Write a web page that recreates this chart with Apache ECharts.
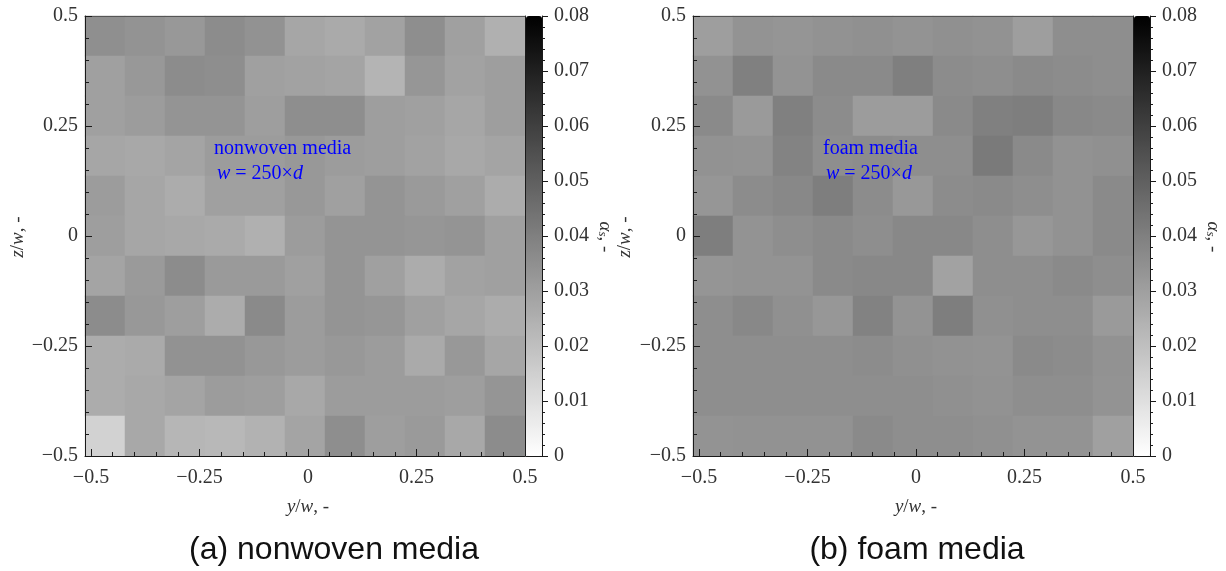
<!DOCTYPE html>
<html>
<head>
<meta charset="utf-8">
<script src="https://cdn.jsdelivr.net/npm/echarts@6/dist/echarts.min.js"></script>
<style>
html,body{margin:0;padding:0;background:#fff;}
#chart{width:1226px;height:571px;}
</style>
</head>
<body>
<div id="chart"></div>
<script>
// ---------- DATA ----------
// cell index along y/w (columns, left -> right) and z/w (rows, bottom -> top)
const cellIndex = ['1','2','3','4','5','6','7','8','9','10','11'];
// tick values of the physical axes
const posTicks = [-0.5, -0.25, 0, 0.25, 0.5];
const colorTicks = [0, 0.01, 0.02, 0.03, 0.04, 0.05, 0.06, 0.07, 0.08];

// alpha_s values, rows listed from top (z/w = +0.5) to bottom (z/w = -0.5)
const nonwovenRows = [
  [0.0351,0.0339,0.0323,0.0361,0.0342,0.0279,0.0267,0.0292,0.0355,0.0298,0.0248],
  [0.0298,0.0323,0.0361,0.0355,0.0298,0.0292,0.0286,0.0235,0.0329,0.0292,0.0304],
  [0.0298,0.0311,0.0336,0.0336,0.0304,0.0355,0.0355,0.0304,0.0298,0.0279,0.0304],
  [0.0279,0.0273,0.0286,0.0311,0.0311,0.0323,0.0311,0.0304,0.0292,0.0273,0.0286],
  [0.0311,0.0279,0.0260,0.0298,0.0298,0.0323,0.0298,0.0336,0.0317,0.0298,0.0260],
  [0.0304,0.0279,0.0273,0.0267,0.0248,0.0311,0.0336,0.0336,0.0329,0.0336,0.0298],
  [0.0286,0.0317,0.0361,0.0317,0.0317,0.0298,0.0336,0.0298,0.0260,0.0292,0.0298],
  [0.0361,0.0323,0.0304,0.0260,0.0367,0.0311,0.0336,0.0329,0.0298,0.0279,0.0260],
  [0.0260,0.0267,0.0342,0.0342,0.0323,0.0311,0.0323,0.0311,0.0267,0.0323,0.0279],
  [0.0260,0.0273,0.0286,0.0311,0.0304,0.0273,0.0311,0.0311,0.0311,0.0304,0.0333],
  [0.0141,0.0273,0.0229,0.0223,0.0242,0.0286,0.0355,0.0304,0.0317,0.0273,0.0361]
];
const foamRows = [
  [0.0304,0.0339,0.0333,0.0342,0.0348,0.0339,0.0348,0.0342,0.0304,0.0355,0.0355],
  [0.0342,0.0398,0.0339,0.0367,0.0367,0.0402,0.0361,0.0355,0.0367,0.0361,0.0355],
  [0.0367,0.0317,0.0398,0.0361,0.0311,0.0311,0.0367,0.0398,0.0405,0.0373,0.0367],
  [0.0342,0.0339,0.0389,0.0355,0.0361,0.0355,0.0355,0.0417,0.0367,0.0342,0.0348],
  [0.0329,0.0361,0.0373,0.0405,0.0361,0.0323,0.0361,0.0367,0.0355,0.0342,0.0367],
  [0.0405,0.0339,0.0355,0.0367,0.0355,0.0373,0.0373,0.0355,0.0326,0.0342,0.0367],
  [0.0333,0.0339,0.0339,0.0367,0.0373,0.0373,0.0292,0.0355,0.0355,0.0367,0.0355],
  [0.0355,0.0373,0.0348,0.0326,0.0392,0.0339,0.0405,0.0348,0.0355,0.0355,0.0317],
  [0.0355,0.0355,0.0355,0.0355,0.0361,0.0348,0.0342,0.0339,0.0367,0.0361,0.0342],
  [0.0355,0.0355,0.0355,0.0355,0.0355,0.0355,0.0348,0.0342,0.0355,0.0355,0.0339],
  [0.0339,0.0342,0.0342,0.0342,0.0367,0.0355,0.0355,0.0348,0.0339,0.0339,0.0298]
];
const panelNames = ['nonwoven media', 'foam media'];
const captions = ['(a) nonwoven media', '(b) foam media'];
const widthNote = '{i|w} = 250×{i|d}';

// ---------- CHART ----------
const SERIF = '"Liberation Serif", "Times New Roman", serif';
const LINE = '#1a1a1a';
const TXT = '#333';

function toCells(rows) {
  const out = [];
  const n = rows.length;
  rows.forEach((row, r) => row.forEach((v, c) => out.push([c, n - 1 - r, v])));
  return out;
}
function posFmt(v) {
  if (Math.abs(v) < 1e-9) return '0';
  return (v < 0 ? '\u2212' : '') + String(Math.abs(v));
}
function cbFmt(v) {
  if (Math.abs(v) < 1e-9) return '0';
  return v.toFixed(2);
}

const panels = [
  { left: 85, rows: nonwovenRows, note: panelNames[0], noteX: 214, cbTitleX: 605, zX: 18, capX: 334 },
  { left: 693, rows: foamRows, note: panelNames[1], noteX: 823, cbTitleX: 1213, zX: 625, capX: 917 }
];
const TOP = 16, SIZE = 440, TICKOFF = 6, CBW = 16;

const option = {
  animation: false,
  backgroundColor: '#fff',
  grid: [], xAxis: [], yAxis: [], series: [], visualMap: [], graphic: []
};

panels.forEach((p, k) => {
  const g0 = option.grid.length;
  option.grid.push({ left: p.left, top: TOP, width: SIZE, height: SIZE, containLabel: false });
  option.grid.push({ left: p.left + TICKOFF, top: TOP, width: SIZE - TICKOFF, height: SIZE, containLabel: false });
  option.grid.push({ left: p.left + SIZE + 1, top: TOP, width: CBW, height: SIZE, containLabel: false });

  const x0 = option.xAxis.length;
  const y0 = option.yAxis.length;
  // heatmap category axes (bottom border)
  option.xAxis.push({ type: 'category', gridIndex: g0, data: cellIndex, position: 'bottom', z: 10,
    axisLine: { show: true, onZero: false, lineStyle: { color: LINE, width: 1 } }, axisTick: { show: false }, axisLabel: { show: false }, splitLine: { show: false } });
  option.yAxis.push({ type: 'category', gridIndex: g0, data: cellIndex, z: 10,
    axisLine: { show: false, onZero: false }, axisTick: { show: false }, axisLabel: { show: false }, splitLine: { show: false } });
  // top border
  option.xAxis.push({ type: 'value', gridIndex: g0, position: 'top', min: 0, max: 1, z: 10,
    axisLine: { show: true, onZero: false, lineStyle: { color: '#555', width: 1 } }, axisTick: { show: false }, axisLabel: { show: false }, splitLine: { show: false } });
  // left axis z/w
  option.yAxis.push({ type: 'value', gridIndex: g0, position: 'left', min: -0.5, max: 0.5, interval: 0.25, z: 10,
    axisLine: { show: true, onZero: false, lineStyle: { color: LINE, width: 1 } },
    axisTick: { show: true, inside: true, length: 7, lineStyle: { color: LINE } },
    minorTick: { show: true, splitNumber: 5, length: 4, lineStyle: { color: LINE } },
    axisLabel: { show: true, margin: 7, formatter: posFmt, fontFamily: SERIF, fontSize: 20, color: TXT },
    splitLine: { show: false }, minorSplitLine: { show: false } });
  // right border
  option.yAxis.push({ type: 'value', gridIndex: g0, position: 'right', min: 0, max: 1, z: 10,
    axisLine: { show: true, onZero: false, lineStyle: { color: LINE, width: 1 } }, axisTick: { show: false }, axisLabel: { show: false }, splitLine: { show: false } });

  // tick axis y/w
  option.xAxis.push({ type: 'value', gridIndex: g0 + 1, position: 'bottom', min: -0.5, max: 0.5, interval: 0.25, z: 10,
    axisLine: { show: false, onZero: false },
    axisTick: { show: true, inside: true, length: 7, lineStyle: { color: LINE } },
    minorTick: { show: true, splitNumber: 5, length: 4, lineStyle: { color: LINE } },
    axisLabel: { show: true, margin: 12, formatter: posFmt, fontFamily: SERIF, fontSize: 20, color: TXT },
    splitLine: { show: false }, minorSplitLine: { show: false } });
  option.yAxis.push({ type: 'value', gridIndex: g0 + 1, show: false, min: -0.5, max: 0.5 });

  // colorbar axes
  option.xAxis.push({ type: 'value', gridIndex: g0 + 2, position: 'bottom', min: 0, max: 1, z: 10,
    axisLine: { show: true, onZero: false, lineStyle: { color: LINE, width: 1 } }, axisTick: { show: false }, axisLabel: { show: false }, splitLine: { show: false } });
  option.yAxis.push({ type: 'value', gridIndex: g0 + 2, position: 'right', min: 0, max: 0.08, interval: 0.01, z: 10,
    axisLine: { show: true, onZero: false, lineStyle: { color: LINE, width: 1 } },
    axisTick: { show: true, inside: false, length: 6, lineStyle: { color: LINE } },
    minorTick: { show: true, splitNumber: 5, length: 3, lineStyle: { color: LINE } },
    axisLabel: { show: true, margin: 12, formatter: cbFmt, fontFamily: SERIF, fontSize: 20, color: TXT },
    splitLine: { show: false }, minorSplitLine: { show: false } });

  option.series.push({
    type: 'heatmap', name: p.note, xAxisIndex: x0, yAxisIndex: y0,
    data: toCells(p.rows), itemStyle: { borderWidth: 0 },
    emphasis: { disabled: true }, progressive: 0, silent: true
  });

  option.visualMap.push({
    type: 'continuous', seriesIndex: k, min: colorTicks[0], max: colorTicks[colorTicks.length - 1],
    calculable: false, hoverLink: false, orient: 'vertical',
    left: p.left + SIZE + 1, top: TOP, itemWidth: CBW, itemHeight: SIZE, padding: 0,
    inRange: { color: ['#ffffff', '#000000'] }, z: 5
  });

  // annotation
  option.graphic.push({ type: 'text', x: p.noteX, y: 149, z: 100,
    style: { text: p.note, font: '20px ' + SERIF, fill: '#0000ff', align: 'left', verticalAlign: 'middle' } });
  option.graphic.push({ type: 'text', x: p.noteX + 3, y: 174, z: 100,
    style: { text: widthNote, font: '20px ' + SERIF, fill: '#0000ff', align: 'left', verticalAlign: 'middle',
      rich: { i: { fontStyle: 'italic', fontFamily: SERIF, fontSize: 20, fill: '#0000ff' } } } });
  // axis titles
  option.graphic.push({ type: 'text', x: p.left + TICKOFF + (SIZE - TICKOFF) / 2, y: 507, z: 100,
    style: { text: '{i|y}/{i|w}, -', font: '19px ' + SERIF, fill: TXT, align: 'center', verticalAlign: 'middle',
      rich: { i: { fontStyle: 'italic', fontFamily: SERIF, fontSize: 19, fill: TXT } } } });
  option.graphic.push({ type: 'text', x: p.zX, y: 237, rotation: Math.PI / 2, z: 100,
    style: { text: '{i|z}/{i|w}, -', font: '19px ' + SERIF, fill: TXT, align: 'center', verticalAlign: 'middle',
      rich: { i: { fontStyle: 'italic', fontFamily: SERIF, fontSize: 19, fill: TXT } } } });
  option.graphic.push({ type: 'text', x: p.cbTitleX, y: 237, rotation: -Math.PI / 2, z: 100,
    style: { text: '{i|α}{s|s}, -', font: '19px ' + SERIF, fill: TXT, align: 'center', verticalAlign: 'middle',
      rich: { i: { fontStyle: 'italic', fontFamily: SERIF, fontSize: 19, fill: TXT },
              s: { fontStyle: 'italic', fontFamily: SERIF, fontSize: 13, fill: TXT, verticalAlign: 'bottom', padding: [6, 0, 0, 0] } } } });
  // caption
  option.graphic.push({ type: 'text', x: p.capX, y: 550, z: 100,
    style: { text: captions[k], font: '32px "Liberation Sans", Arial, sans-serif', fill: '#111', align: 'center', verticalAlign: 'middle' } });
});

const chart = echarts.init(document.getElementById('chart'), null, { renderer: 'canvas' });
chart.setOption(option);
</script>
</body>
</html>
